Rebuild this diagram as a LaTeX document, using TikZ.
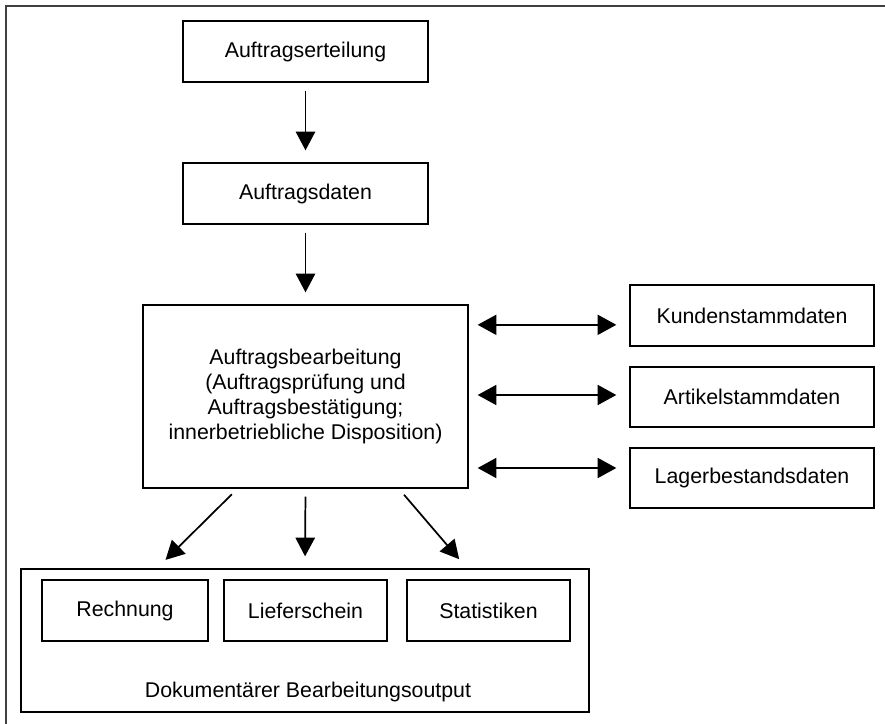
\documentclass[tikz,border=0pt]{standalone}
\usepackage{fontspec}
\setmainfont{Liberation Sans}
\usepackage{tikz}
\usetikzlibrary{arrows.meta}

\tikzset{
	kasten/.style={draw,line width=1pt,inner sep=0pt,align=center},
	pfeil/.style={line width=1.3pt,-{Triangle[length=14pt,width=14.5pt]},shorten <=6pt,shorten >=9pt},
	zweiweg/.style={line width=1.3pt,{Triangle[length=14pt,width=15pt]}-{Triangle[length=14pt,width=15pt]},shorten <=6.75pt,shorten >=9.75pt}
}

\begin{document}
\begin{tikzpicture}[x=0.75pt,y=-0.75pt,font=\fontsize{16}{18.75}\selectfont]
\useasboundingbox (0,0) rectangle (885,724);
\draw[line width=1.5pt,black!75] (6,724) -- (6,6) -- (885,6);

\node (auftrag) [kasten,minimum width=183.75pt,minimum height=45.75pt] at (305.5,51.5) {Auftragserteilung};
\node (daten) [kasten,minimum width=183.75pt,minimum height=45.75pt] at (305.5,193.5) {Auftragsdaten};
\node (main) [kasten,minimum width=243.75pt,minimum height=137.25pt] at (305.5,396.5) {Auftragsbearbeitung\\(Auftragsprüfung und\\Auftragsbestätigung;\\innerbetriebliche Disposition)};

\node (kunden) [kasten,minimum width=183pt,minimum height=45.75pt] at (752,315.5) {Kundenstammdaten};
\node (artikel) [kasten,minimum width=183pt,minimum height=45pt] at (752,397) {Artikelstammdaten};
\node (lager) [kasten,minimum width=183pt,minimum height=45pt] at (752,478) {Lagerbestandsdaten};

\node (output) [kasten,minimum width=426pt,minimum height=107.25pt] at (305,640.5) {};
\node (rechnung) [kasten,minimum width=124.5pt,minimum height=45.75pt] at (125,610.5) {Rechnung};
\node (liefer) [kasten,minimum width=122.25pt,minimum height=45.75pt] at (305.5,610.5) {Lieferschein};
\node (statistik) [kasten,minimum width=122.25pt,minimum height=45.75pt] at (488.5,610.5) {Statistiken};
\node (titel) at (308,692) {Dokumentärer Bearbeitungsoutput};

\draw[pfeil] (auftrag) -- (daten);
\draw[pfeil] (daten) -- (main);
\foreach \ziel/\dy in {kunden/-7pt,artikel/1.5pt,lager/7.5pt}{
	\draw[zweiweg] ([yshift=\dy]\ziel.west -| main.east) -- ([yshift=\dy]\ziel.west);
}
\foreach \a/\b in {-51pt/-111pt,0pt/0pt,70pt/121.5pt}{
	\draw[pfeil] ([xshift=\a]main.south) -- ([xshift=\b]output.north);
}
\end{tikzpicture}
\end{document}
